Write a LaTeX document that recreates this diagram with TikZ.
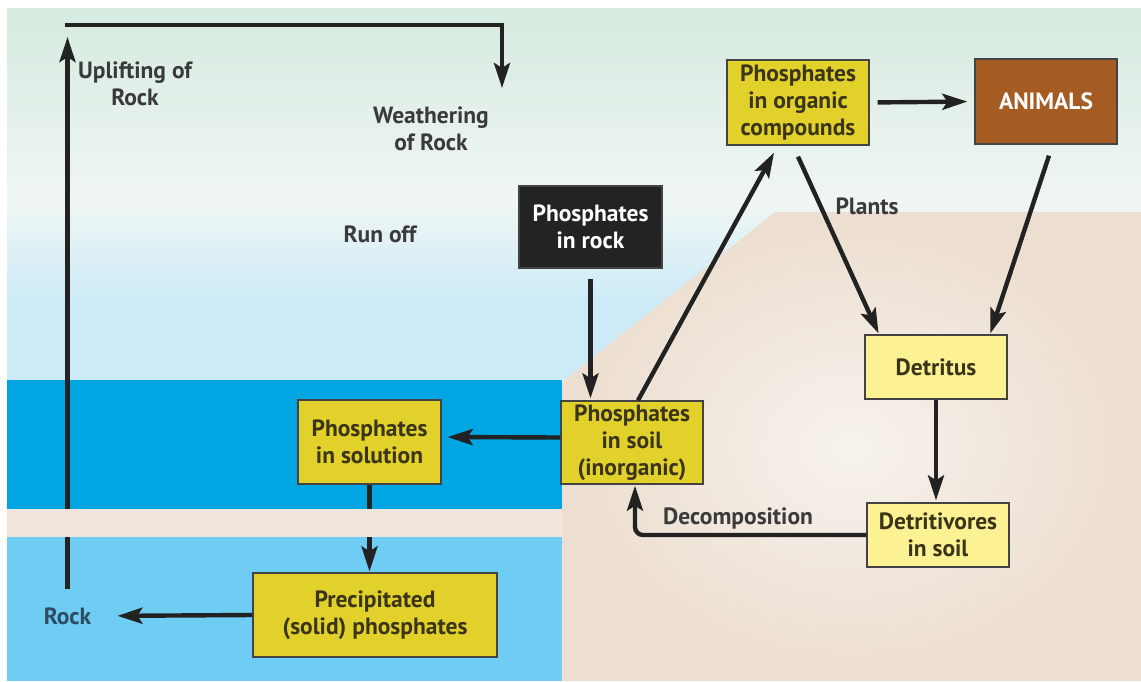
\documentclass[tikz,border=0pt]{standalone}
\usepackage{fontspec}
\setmainfont{PT Sans}
\usetikzlibrary{arrows.meta,calc}

\definecolor{skytop}{HTML}{D6EADF}
\definecolor{skymid}{HTML}{F0F6F3}
\definecolor{skylow}{HTML}{CDEBF7}
\definecolor{deepsea}{HTML}{00A6E1}
\definecolor{shallow}{HTML}{6FCDF3}
\definecolor{sandband}{HTML}{F1E6DE}
\definecolor{soilout}{HTML}{ECDED0}
\definecolor{soilin}{HTML}{F7F2ED}
\definecolor{pbox}{HTML}{E2D12A}
\definecolor{lbox}{HTML}{FCF294}
\definecolor{animal}{HTML}{A55C23}
\definecolor{rockbox}{HTML}{232323}
\definecolor{ink}{HTML}{222222}
\definecolor{labeltxt}{HTML}{3A3A3A}
\definecolor{boxtxt}{HTML}{3A3418}
\definecolor{rocktxt}{HTML}{2E4B64}

\tikzset{
  txt/.style={font=\fontsize{23.5}{27}\selectfont\bfseries},
  box/.style={txt, draw=ink!85, line width=1.3pt, align=center, inner sep=0pt,
              minimum width=142pt},
  ybox/.style={box, fill=pbox, text=boxtxt},
  lybox/.style={box, fill=lbox, text=boxtxt, minimum height=64pt},
  lbl/.style={txt, align=center, text=labeltxt, inner sep=0pt},
  arr/.style={draw=ink, line width=4.4pt,
              -{Stealth[length=25pt,width=16pt,inset=5pt]}},
}

\begin{document}
\begin{tikzpicture}[x=1pt,y=-1pt]
  % canvas
  \fill[white] (0,0) rectangle (1141,681);
  \useasboundingbox (0,0) rectangle (1141,681);

  % sky
  \shade[top color=skytop, bottom color=skymid] (7,8) rectangle (1141,200);
  \shade[top color=skymid, bottom color=skylow] (7,200) rectangle (1141,300);
  \fill[skylow] (7,300) rectangle (1141,380);

  % land
  \shade[inner color=soilin, outer color=soilout]
    (562,681) -- (562,382) -- (775,212) -- (1141,212) -- (1141,681) -- cycle;

  % water layers
  \fill[deepsea] (7,380) rectangle (562,509);
  \fill[shallow] (7,537) rectangle (562,681);

  % boxes
  \node[ybox, minimum height=85pt] (org) at (798,102.5) {Phosphates\\in organic\\compounds};
  \node[box, fill=animal, text=white, minimum height=85pt] (ani) at (1046,101.5) {ANIMALS};
  \node[box, fill=rockbox, text=white, minimum width=143pt, minimum height=82pt] (rock) at (590.5,227) {Phosphates\\in rock};
  \node[ybox, minimum height=83pt] (soil) at (632,442.5) {Phosphates\\in soil\\(inorganic)};
  \node[ybox, minimum width=143pt, minimum height=84pt] (sol) at (369.5,442) {Phosphates\\in solution};
  \node[ybox, minimum width=244pt, minimum height=84pt] (prec) at (375,615) {Precipitated\\(solid) phosphates};
  \node[lybox] (det) at (936,367) {Detritus};
  \node[lybox] (dtv) at (938,535) {Detritivores\\in soil};

  % labels
  \node[lbl] (upl) at (135,84) {Uplifting of\\Rock};
  \node[lbl] (wea) at (431,129) {Weathering\\of Rock};
  \node[lbl] (run) at (380,234) {Run off};
  \node[lbl] (plants) at (867,206) {Plants};
  \node[lbl] (decomp) at (738,518) {Decomposition};
  \node[lbl, text=rocktxt] (rocklbl) at (67.5,616) {Rock};

  % rock cycle loop
  \coordinate (uptip) at (67,37);
  \coordinate (topL) at (65,25);
  \coordinate (topR) at (502,25);
  \coordinate (weaTip) at (502,88);
  \draw[arr] ([yshift=18pt]rocklbl.north) -- (rocklbl.north |- uptip);
  \draw[arr, line join=miter] (topL) -- (topR) -- (weaTip);

  % flows between pools
  \draw[arr, shorten <=10pt, shorten >=2pt] (rock.south) -- (rock.south |- soil.north);
  \draw[arr] ([xshift=6pt]soil.north) -- ([xshift=-24pt,yshift=-7pt]org.south);
  \draw[arr, shorten <=8pt, shorten >=7pt] (org.east) -- (ani.west);
  \draw[arr, shorten >=1pt] ([yshift=-11pt]org.south) -- ([xshift=-57pt]det.north);
  \draw[arr, shorten >=1pt] ([xshift=3pt,yshift=-11pt]ani.south) -- ([xshift=54pt]det.north);
  \draw[arr, shorten >=2pt] (det.south) -- (det.south |- dtv.north);
  \draw[arr, rounded corners=8pt, shorten >=1pt] (dtv.west) -| ([xshift=3pt]soil.south);
  \draw[arr, shorten >=6pt] ([yshift=5pt]soil.west) -- ([yshift=5pt]sol.east);
  \draw[arr, shorten >=1pt] (sol.south) -- (sol.south |- prec.north);
  \draw[arr, shorten >=26pt] (prec.west) -- (rocklbl.east);

  % sea-floor strip laid over the lines that cross it
  \fill[sandband] (7,509) rectangle (562,537);
\end{tikzpicture}
\end{document}
